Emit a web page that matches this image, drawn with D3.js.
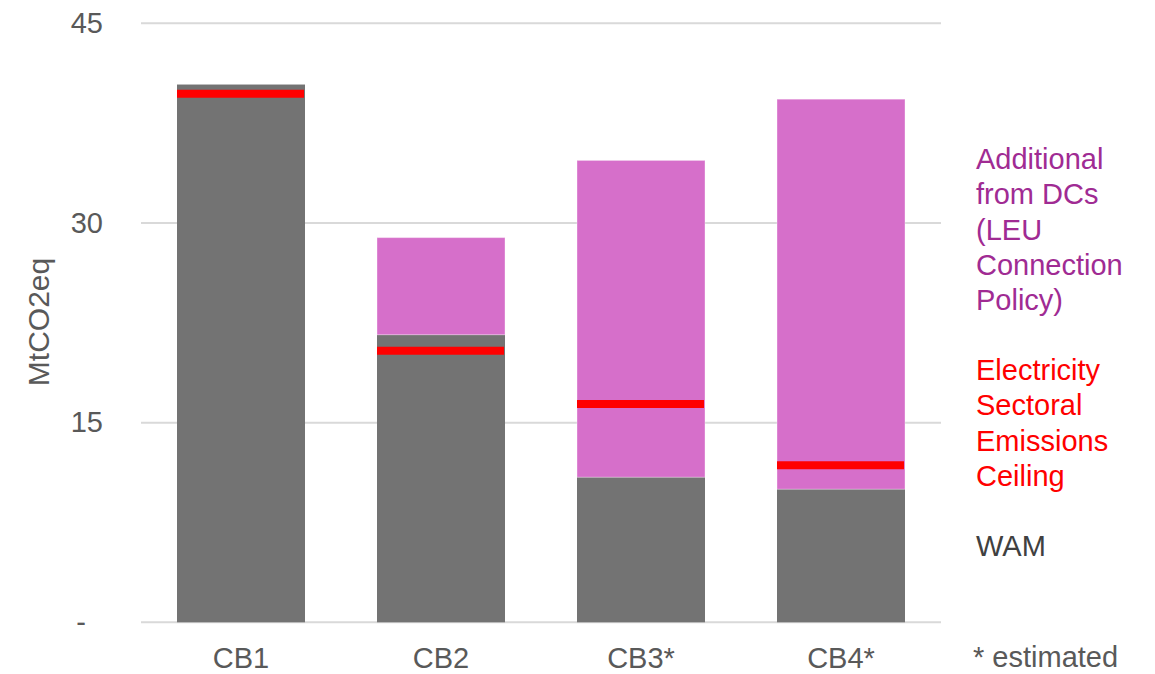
<!DOCTYPE html>
<html>
<head>
<meta charset="utf-8">
<script src="https://cdn.jsdelivr.net/npm/d3@7"></script>
<style>
  html, body { margin: 0; padding: 0; background: #fff; }
  svg { display: block; font-family: "Liberation Sans", Arial, sans-serif; }
</style>
</head>
<body>
<svg id="chart" width="1155" height="674"></svg>
<script>
// Carbon budget periods
const categories = ["CB1", "CB2", "CB3*", "CB4*"];
// WAM emissions (MtCO2eq)
const wamValues = [40.4, 21.6, 10.9, 10.0];
// Additional emissions from data centres on top of WAM
const dcValues = [0, 7.3, 23.8, 29.3];
// Electricity sectoral emissions ceiling
const ceilingValues = [39.7, 20.4, 16.4, 11.8];
// Y axis ticks and their labels
const yTicks = [0, 15, 30, 45];
const yTickLabels = ["-", "15", "30", "45"];

const svg = d3.select("#chart");
const plotLeft = 141, plotRight = 941, plotTop = 23.3, plotBottom = 622.3;

const x = d3.scaleBand().domain(categories).range([plotLeft, plotRight]).paddingInner(0.36).paddingOuter(0.18);
const y = d3.scaleLinear().domain([0, 45]).range([plotBottom, plotTop]);

// Gridlines
svg.append("g").selectAll("line").data(yTicks).join("line")
  .attr("x1", plotLeft).attr("x2", plotRight)
  .attr("y1", d => y(d)).attr("y2", d => y(d))
  .attr("stroke", "#d9d9d9").attr("stroke-width", 2);

// Y axis labels
const yAxis = d3.axisLeft(y).tickValues(yTicks).tickSize(0).tickPadding(0)
  .tickFormat((d, i) => yTickLabels[i]);
const yg = svg.append("g").attr("transform", `translate(103,0)`).call(yAxis);
yg.select(".domain").remove();
yg.selectAll("text").attr("font-size", 29).attr("fill", "#595959")
  .attr("font-family", "Liberation Sans, Arial, sans-serif")
  .attr("text-anchor", d => d === 0 ? "middle" : "end")
  .attr("dx", d => d === 0 ? -22 : 0);

// Y axis title
svg.append("text")
  .attr("transform", "translate(38,322) rotate(-90)")
  .attr("text-anchor", "middle").attr("dominant-baseline", "central")
  .attr("font-size", 30).attr("fill", "#595959")
  .text("MtCO2eq");

// Category axis
const xAxis = d3.axisBottom(x).tickSize(0).tickPadding(0);
const xg = svg.append("g").attr("transform", `translate(0,668)`).call(xAxis);
xg.select(".domain").remove();
xg.selectAll("text").attr("font-size", 29).attr("fill", "#595959")
  .attr("font-family", "Liberation Sans, Arial, sans-serif")
  .attr("dy", null).attr("y", 0);

// Stacked bars: WAM then additional
const bars = svg.append("g");
bars.selectAll("rect.wam").data(categories).join("rect")
  .attr("class", "wam")
  .attr("x", d => x(d)).attr("width", x.bandwidth())
  .attr("y", (d, i) => y(wamValues[i]))
  .attr("height", (d, i) => y(0) - y(wamValues[i]))
  .attr("fill", "#737373");
bars.selectAll("rect.dc").data(categories).join("rect")
  .attr("class", "dc")
  .attr("x", d => x(d)).attr("width", x.bandwidth())
  .attr("y", (d, i) => y(wamValues[i] + dcValues[i]))
  .attr("height", (d, i) => y(wamValues[i]) - y(wamValues[i] + dcValues[i]))
  .attr("fill", "#d66fca")
  .attr("stroke", "rgba(255,255,255,0.35)").attr("stroke-width", 1);

// Ceiling markers
svg.append("g").selectAll("line").data(categories).join("line")
  .attr("x1", d => x(d)).attr("x2", d => x(d) + x.bandwidth() - 1)
  .attr("y1", (d, i) => y(ceilingValues[i])).attr("y2", (d, i) => y(ceilingValues[i]))
  .attr("stroke", "#ff0000").attr("stroke-width", 8);

// Legend text
const legend = [
  { lines: ["Additional", "from DCs", "(LEU", "Connection", "Policy)"], y0: 159, color: "#a02b93" },
  { lines: ["Electricity", "Sectoral", "Emissions", "Ceiling"], y0: 370, color: "#ff0000" },
  { lines: ["WAM"], y0: 546, color: "#404040" }
];
legend.forEach(g => {
  svg.append("g").selectAll("text").data(g.lines).join("text")
    .attr("x", 976).attr("y", (d, i) => g.y0 + i * 35.3)
    .attr("dominant-baseline", "central")
    .attr("font-size", 29).attr("fill", g.color)
    .text(d => d);
});
svg.append("text")
  .attr("x", 973).attr("y", 667)
  .attr("font-size", 29).attr("fill", "#595959")
  .text("* estimated");
</script>
</body>
</html>
